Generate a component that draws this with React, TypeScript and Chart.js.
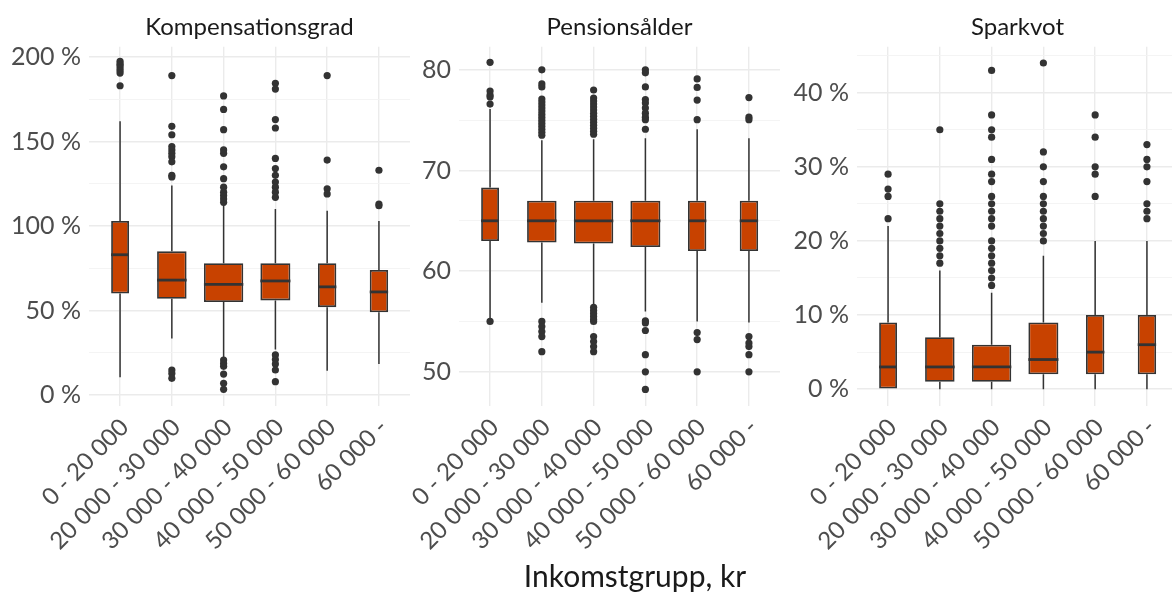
import { useEffect, useRef } from "react";
import { Chart, registerables } from "chart.js";

Chart.register(...registerables);

const incomeGroups = [
  "0 - 20 000",
  "20 000 - 30 000",
  "30 000 - 40 000",
  "40 000 - 50 000",
  "50 000 - 60 000",
  "60 000 -",
];

// Kompensationsgrad (%)
const kompLow = [10.5, 33.5, 22, 27, 14.4, 18.3];
const kompQ1 = [60, 57, 55, 56, 52, 49];
const kompMedian = [83, 68, 65.5, 67.5, 64, 61];
const kompQ3 = [103, 85, 78, 78, 78, 74];
const kompHigh = [162, 124, 113, 110, 109, 103];
const kompOutliers = [
  [197.5, 196, 195, 193.5, 192, 190.5, 183],
  [189, 159, 154, 147, 145, 143, 141, 138, 130, 129, 14.8, 12.8, 9.9],
  [177, 169, 157, 145, 143, 135, 128, 123, 120, 118, 116, 114, 20.7, 18.7, 17, 12.4, 6.9, 3.4],
  [184.4, 181, 163, 158, 140, 134, 130, 126, 123, 120, 117, 23.7, 21, 18.3, 14.8, 7.9],
  [189, 139, 122, 119],
  [133, 113, 112],
];
const kompTicks = [0, 50, 100, 150, 200];
const kompMinorTicks = [25, 75, 125, 175];

// Pensionsålder (år)
const penLow = [55.2, 56.85, 56.6, 56, 55, 54.9];
const penQ1 = [63, 62.85, 62.75, 62.4, 62, 62];
const penMedian = [65, 65, 65, 65, 65, 65];
const penQ3 = [68.3, 67, 67, 67, 67, 67];
const penHigh = [76.1, 73, 73.1, 73.2, 74.1, 73.2];
const penOutliers = [
  [80.75, 77.9, 77.5, 77.3, 76.6, 55],
  [80, 78.6, 78.3, 77.1, 76.8, 76.5, 76.2, 75.9, 75.6, 75.3, 75.0, 74.7, 74.4, 74.1, 73.8, 73.5, 55, 54.5, 54, 53.5, 52],
  [78, 77.2, 76.9, 76.6, 76.3, 76.0, 75.7, 75.4, 75.1, 74.8, 74.5, 74.2, 73.9, 73.6, 56.4, 56.1, 55.8, 55.5, 55.2, 55, 53.5, 53, 52.5, 52],
  [80, 79.7, 78.3, 77.05, 76.7, 76.2, 75.7, 75.3, 75.05, 74.1, 55.05, 54.85, 54.1, 51.7, 50, 48.25],
  [79.1, 78.25, 77, 75.05, 53.9, 53.2, 50],
  [77.25, 75.3, 75.05, 53.5, 52.85, 52.5, 51.7, 50],
];
const penTicks = [50, 60, 70, 80];
const penMinorTicks = [55, 65, 75];

// Sparkvot (%)
const sparLow = [0, 0, 0, 0, 0, 0];
const sparQ1 = [0, 1, 1, 2, 2, 2];
const sparMedian = [3, 3, 3, 4, 5, 6];
const sparQ3 = [9, 7, 6, 9, 10, 10];
const sparHigh = [22, 16, 13, 18, 20, 20];
const sparOutliers = [
  [29, 27, 26, 23],
  [35, 25, 24, 23, 22, 21, 20, 19, 18, 17],
  [43, 37, 35, 34, 31, 29, 28, 26, 25, 24, 23, 22, 20, 19, 18, 17, 16, 15, 14],
  [44, 32, 30, 28, 26, 25, 24, 23, 22, 21, 20],
  [37, 34, 30, 29, 26],
  [33, 31, 30, 28, 25, 24, 23],
];
const sparTicks = [0, 10, 20, 30, 40];
const sparMinorTicks = [5, 15, 25, 35, 45];

// relative box widths (share of the category step)
const boxWidths = [0.345, 0.57, 0.76, 0.58, 0.355, 0.355];

const FONT = "Lato, 'Open Sans', sans-serif";
const BOX_FILL = "#C84200";
const INK = "#333333";
const TICK_COLOR = "#4D4D4D";
const CANVAS_H = 593;
const PLOT_TOP = 46.7;
const PLOT_BOTTOM = 405.5;
const Y_AXIS_W = 80;
const CANVAS_W = 405;

type PanelSpec = {
  title: string;
  low: number[];
  q1: number[];
  median: number[];
  q3: number[];
  high: number[];
  outliers: number[][];
  yMin: number;
  yMax: number;
  major: number[];
  minor: number[];
  suffix: string;
  left: number;
};

const panels: PanelSpec[] = [
  {
    title: "Kompensationsgrad",
    low: kompLow, q1: kompQ1, median: kompMedian, q3: kompQ3, high: kompHigh, outliers: kompOutliers,
    yMin: -6.2, yMax: 206.1, major: kompTicks, minor: kompMinorTicks, suffix: " %", left: 8.5,
  },
  {
    title: "Pensionsålder",
    low: penLow, q1: penQ1, median: penMedian, q3: penQ3, high: penHigh, outliers: penOutliers,
    yMin: 46.65, yMax: 82.3, major: penTicks, minor: penMinorTicks, suffix: "", left: 379,
  },
  {
    title: "Sparkvot",
    low: sparLow, q1: sparQ1, median: sparMedian, q3: sparQ3, high: sparHigh, outliers: sparOutliers,
    yMin: -2.2, yMax: 46.2, major: sparTicks, minor: sparMinorTicks, suffix: " %", left: 777,
  },
];

function boxPlugin(spec: PanelSpec) {
  return {
    id: "boxParts",
    beforeDatasetsDraw(chart: any) {
      const { ctx, scales } = chart;
      const x = scales.x;
      const y = scales.y;
      ctx.save();
      ctx.strokeStyle = INK;
      ctx.lineWidth = 1.5;
      spec.low.forEach((lo, i) => {
        const px = x.getPixelForValue(i);
        ctx.beginPath();
        ctx.moveTo(px, y.getPixelForValue(spec.high[i]));
        ctx.lineTo(px, y.getPixelForValue(spec.q3[i]));
        ctx.moveTo(px, y.getPixelForValue(spec.q1[i]));
        ctx.lineTo(px, y.getPixelForValue(lo));
        ctx.stroke();
      });
      ctx.restore();
    },
    afterDatasetsDraw(chart: any) {
      const { ctx, scales } = chart;
      const y = scales.y;
      ctx.save();
      ctx.strokeStyle = INK;
      ctx.lineWidth = 2.8;
      spec.median.forEach((m, i) => {
        const el = chart.getDatasetMeta(i).data[0];
        if (!el) return;
        const half = el.width / 2;
        const py = y.getPixelForValue(m);
        ctx.beginPath();
        ctx.moveTo(el.x - half, py);
        ctx.lineTo(el.x + half, py);
        ctx.stroke();
      });
      ctx.restore();
    },
    afterDraw(chart: any) {
      const { ctx, chartArea } = chart;
      ctx.save();
      ctx.font = `24px ${FONT}`;
      ctx.fillStyle = "#1A1A1A";
      ctx.textAlign = "center";
      ctx.textBaseline = "alphabetic";
      ctx.fillText(spec.title, (chartArea.left + chartArea.right) / 2, 35);
      ctx.restore();
    },
  };
}

function BoxPanel({ spec }: { spec: PanelSpec }) {
  const ref = useRef<HTMLCanvasElement>(null);

  useEffect(() => {
    const canvas = ref.current;
    if (!canvas) return;

    const boxSets = spec.median.map((_, i) => ({
      type: "bar" as const,
      data: [{ x: i, y: [spec.q1[i], spec.q3[i]] }],
      backgroundColor: BOX_FILL,
      borderColor: INK,
      borderWidth: 1.8,
      borderSkipped: false,
      grouped: false,
      barPercentage: boxWidths[i],
      categoryPercentage: 1,
      order: 1,
    }));

    const outlierSet = {
      type: "scatter" as const,
      data: spec.outliers.flatMap((vals, i) => vals.map((v) => ({ x: i, y: v }))),
      pointRadius: 3.6,
      pointBackgroundColor: INK,
      pointBorderWidth: 0,
      showLine: false,
      order: 0,
    };

    const allY = [...spec.major, ...spec.minor].sort((a, b) => a - b);

    const chart = new Chart(canvas, {
      type: "bar",
      data: { datasets: [...boxSets, outlierSet] as any },
      options: {
        responsive: false,
        animation: false,
        events: [],
        layout: { padding: { top: PLOT_TOP, right: 0, bottom: 0, left: 0 } },
        plugins: {
          legend: { display: false },
          tooltip: { enabled: false },
          title: { display: false },
        },
        scales: {
          x: {
            type: "linear",
            min: -0.6,
            max: 5.6,
            offset: false,
            border: { display: false },
            grid: { offset: false, color: "#EBEBEB", lineWidth: 1.4, drawTicks: false },
            afterBuildTicks: (s: any) => {
              s.ticks = incomeGroups.map((_, i) => ({ value: i }));
            },
            afterFit: (s: any) => {
              s.height = CANVAS_H - PLOT_BOTTOM;
            },
            ticks: {
              autoSkip: false,
              minRotation: 45,
              maxRotation: 45,
              padding: 7.5,
              labelOffset: 4.5,
              color: TICK_COLOR,
              font: { family: FONT, size: 24 },
              callback: (v: any) => incomeGroups[Number(v)] ?? "",
            },
          },
          y: {
            type: "linear",
            min: spec.yMin,
            max: spec.yMax,
            border: { display: false },
            grid: {
              drawTicks: false,
              color: (c: any) => (spec.major.includes(c.tick?.value) ? "#EBEBEB" : "#F3F3F3"),
              lineWidth: (c: any) => (spec.major.includes(c.tick?.value) ? 1.4 : 0.9),
            },
            afterBuildTicks: (s: any) => {
              s.ticks = allY.map((v) => ({ value: v }));
            },
            afterFit: (s: any) => {
              s.width = Y_AXIS_W;
            },
            ticks: {
              padding: 8,
              color: TICK_COLOR,
              font: { family: FONT, size: 25 },
              callback: (v: any) => (spec.major.includes(Number(v)) ? `${v}${spec.suffix}` : ""),
            },
          },
        },
      } as any,
      plugins: [boxPlugin(spec)],
    });

    return () => chart.destroy();
  }, [spec]);

  return (
    <canvas
      ref={ref}
      width={CANVAS_W}
      height={CANVAS_H}
      style={{ position: "absolute", left: spec.left, top: 0, width: CANVAS_W, height: CANVAS_H }}
    />
  );
}

export default function App() {
  return (
    <div
      style={{
        position: "fixed",
        left: 0,
        top: 0,
        width: 1172,
        height: 593,
        overflow: "hidden",
        background: "#ffffff",
      }}
    >
      {panels.map((p) => (
        <BoxPanel key={p.title} spec={p} />
      ))}
      <div
        style={{
          position: "absolute",
          left: 635,
          top: 557,
          transform: "translateX(-50%)",
          fontFamily: FONT,
          fontSize: 30,
          lineHeight: "36px",
          color: "#1A1A1A",
          whiteSpace: "nowrap",
        }}
      >
        Inkomstgrupp, kr
      </div>
    </div>
  );
}
